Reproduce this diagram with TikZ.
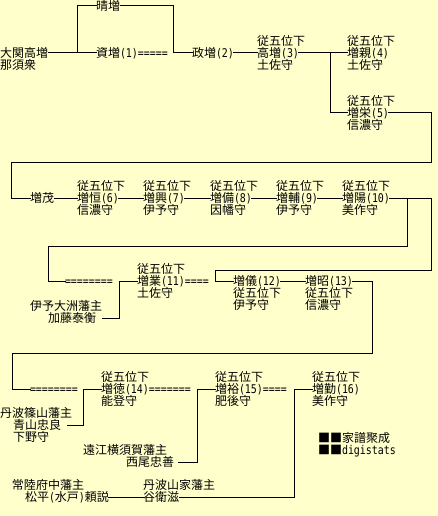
\documentclass[tikz,border=0pt]{standalone}
\usepackage{fontspec}
\setmainfont{Noto Sans CJK JP}
\newfontfamily\hwfont{DejaVu Sans Mono}[FakeStretch=0.83]
\newcommand\A[1]{{\hwfont\fontsize{12}{12}\selectfont #1}}
\definecolor{bgyellow}{HTML}{FFFFCC}
\begin{document}
\begin{tikzpicture}[x=1pt,y=-1pt,
  every node/.style={inner sep=0pt, outer sep=0pt, font=\fontsize{12}{12}\selectfont, text height=10.5pt, text depth=1.5pt},
  nm/.style={anchor=west},
  up/.style={anchor=south west},
  dn/.style={anchor=north west},
  ln/.style={line width=1pt, line cap=rect}]
\fill[bgyellow] (0,0) rectangle (438,516);
\useasboundingbox (0,0) rectangle (438,516);

% row 1
\node[nm] (ozeki) at (0,53) {大関高増};
\node[dn] (ozekib) at (ozeki.south west) {那須衆};
\node[nm] (haru) at (96,6) {晴増};
\node[nm] (suke) at (96,53) {資増\A{(1)=====}};
\node[nm] (masa) at (192,53) {政増\A{(2)}};
\node[nm] (taka) at (257,53) {高増\A{(3)}};
\node[up] (takar) at (taka.north west) {従五位下};
\node[dn] (takat) at (taka.south west) {土佐守};
\node[nm] (chika) at (347,53) {増親\A{(4)}};
\node[up] (chikar) at (chika.north west) {従五位下};
\node[dn] (chikat) at (chika.south west) {土佐守};
\node[nm] (sakae) at (347,113) {増栄\A{(5)}};
\node[up] (sakaer) at (sakae.north west) {従五位下};
\node[dn] (sakaet) at (sakae.south west) {信濃守};

% row 2
\node[nm] (shige) at (30,198) {増茂};
\node[nm] (tsune) at (77,198) {増恒\A{(6)}};
\node[up] (tsuner) at (tsune.north west) {従五位下};
\node[dn] (tsunet) at (tsune.south west) {信濃守};
\node[nm] (oki) at (143,198) {増興\A{(7)}};
\node[up] (okir) at (oki.north west) {従五位下};
\node[dn] (okit) at (oki.south west) {伊予守};
\node[nm] (sonae) at (210,198) {増備\A{(8)}};
\node[up] (sonaer) at (sonae.north west) {従五位下};
\node[dn] (sonaet) at (sonae.south west) {因幡守};
\node[nm] (suke2) at (276,198) {増輔\A{(9)}};
\node[up] (suke2r) at (suke2.north west) {従五位下};
\node[dn] (suke2t) at (suke2.south west) {伊予守};
\node[nm] (hide) at (342,198) {増陽\A{(10)}};
\node[up] (hider) at (hide.north west) {従五位下};
\node[dn] (hidet) at (hide.south west) {美作守};

% row 3
\node[nm] (eqa) at (65,281) {\A{========}};
\node[nm] (nari) at (137,281) {増業\A{(11)====}};
\node[up] (narir) at (nari.north west) {従五位下};
\node[dn] (narit) at (nari.south west) {土佐守};
\node[nm] (kato) at (48,318) {加藤泰衡};
\node[nm] (katoh) at (30,306) {伊予大洲藩主};
\node[nm] (yoshi) at (233,281) {増儀\A{(12)}};
\node[dn] (yoshir) at (yoshi.south west) {従五位下};
\node[dn] (yoshit) at (yoshir.south west) {伊予守};
\node[nm] (aki) at (305,281) {増昭\A{(13)}};
\node[dn] (akir) at (aki.south west) {従五位下};
\node[dn] (akit) at (akir.south west) {信濃守};

% row 4
\node[nm] (eqb) at (30,389) {\A{========}};
\node[nm] (nori) at (101,389) {増徳\A{(14)=======}};
\node[up] (norir) at (nori.north west) {従五位下};
\node[dn] (norit) at (nori.south west) {能登守};
\node[nm] (aoyamah) at (0,413) {丹波篠山藩主};
\node[nm] (aoyama) at (13,425) {青山忠良};
\node[dn] (aoyamat) at (aoyama.south west) {下野守};
\node[nm] (hiro) at (215,389) {増裕\A{(15)====}};
\node[up] (hiror) at (hiro.north west) {従五位下};
\node[dn] (hirot) at (hiro.south west) {肥後守};
\node[nm] (isao) at (312,389) {増勤\A{(16)}};
\node[up] (isaor) at (isao.north west) {従五位下};
\node[dn] (isaot) at (isao.south west) {美作守};
\node[nm] (nishioh) at (83,450) {遠江横須賀藩主};
\node[nm] (nishio) at (126,462) {西尾忠善};

% bottom
\node[nm] (yorih) at (12,485) {常陸府中藩主};
\node[nm] (yori) at (25,497) {松平\A{(}水戸\A{)}頼説};
\node[nm] (tanih) at (143,485) {丹波山家藩主};
\node[nm] (tani) at (143,497) {谷衛滋};

% legend
\node[nm] (leg1) at (318,438) {■■家譜聚成};
\node[dn] (leg2) at (leg1.south west) {■■\A{digistats}};

% coordinates
\coordinate (j1) at (77,53);
\coordinate (b0) at (173,53);
\coordinate (j3) at (330,53);
\coordinate (b1) at (431,162);
\coordinate (b2) at (11,198);
\coordinate (b3) at (431,270);
\coordinate (b4) at (215,281);
\coordinate (j4) at (407,198);
\coordinate (b5) at (48,246);
\coordinate (b6) at (372,353);
\coordinate (b7) at (12,389);
\coordinate (b8) at (119,281);
\coordinate (b9) at (83,389);
\coordinate (b10) at (197,389);
\coordinate (b11) at (294,389);

% connectors
\draw[ln] (ozeki.east) -- (suke.west);
\draw[ln] (j1) |- (haru.west);
\draw[ln] (haru.east) -| (b0) -- (masa.west);
\draw[ln] (masa.east) -- (taka.west);
\draw[ln] (taka.east) -- (chika.west);
\draw[ln] (j3) |- (sakae.west);
\draw[ln] (sakae.east) -| (b1) -| (b2) -- (shige.west);
\draw[ln] (shige.east) -- (tsune.west);
\draw[ln] (tsune.east) -- (oki.west);
\draw[ln] (oki.east) -- (sonae.west);
\draw[ln] (sonae.east) -- (suke2.west);
\draw[ln] (suke2.east) -- (hide.west);
\draw[ln] (hide.east) -| (b3) -| (b4) -- (yoshi.west);
\draw[ln] (j4) |- (b5) |- (eqa.west);
\draw[ln] ([xshift=6pt]kato.east) -| (b8) -- (nari.west);
\draw[ln] (yoshi.east) -- (aki.west);
\draw[ln] (aki.east) -| (b6) -| (b7) -- (eqb.west);
\draw[ln] ([xshift=6pt]aoyama.east) -| (b9) -- (nori.west);
\draw[ln] ([xshift=4pt]nishio.east) -| (b10) -- (hiro.west);
\draw[ln] (yori.east) -- (tani.west);
\draw[ln] (tani.east) -| (b11) -- (isao.west);
\end{tikzpicture}
\end{document}
